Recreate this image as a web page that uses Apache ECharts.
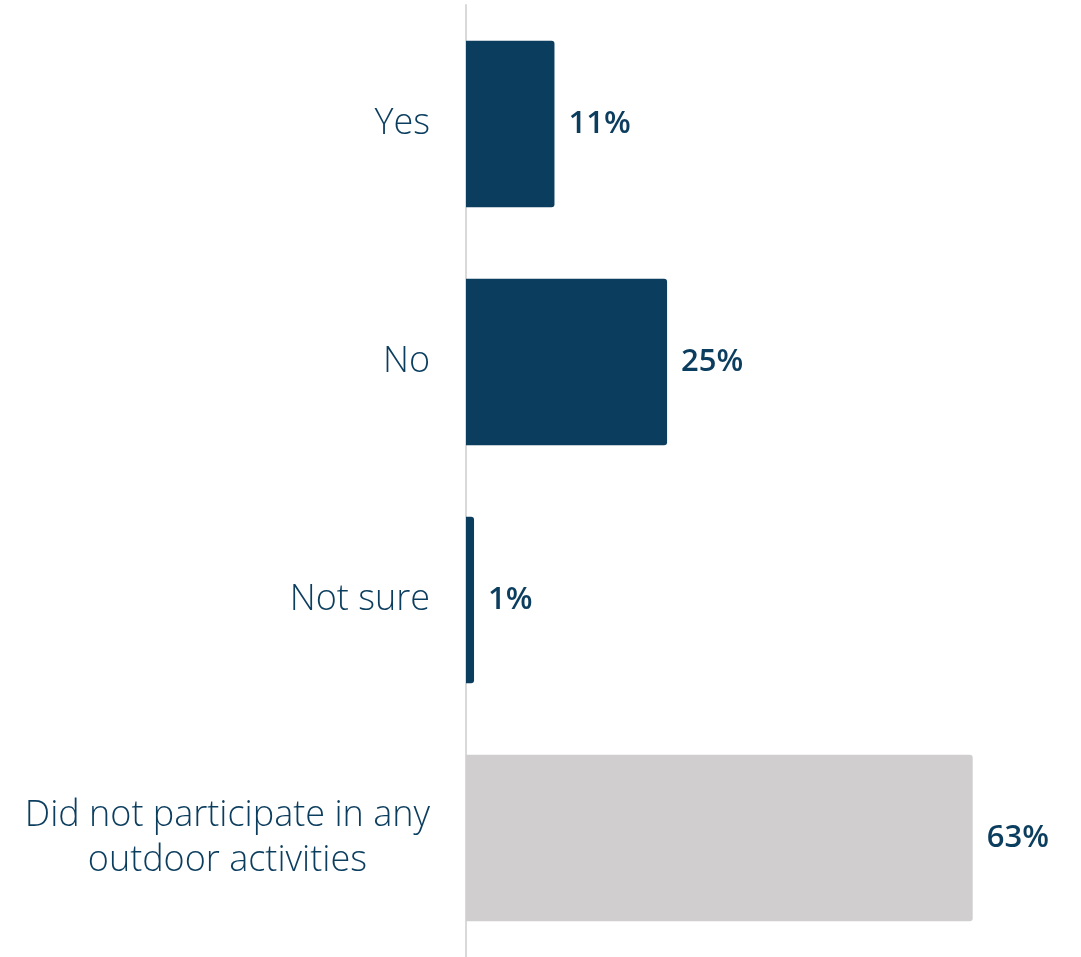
<!DOCTYPE html>
<html>
<head>
<meta charset="utf-8">
<script src="https://cdn.jsdelivr.net/npm/echarts@6/dist/echarts.min.js"></script>
<style>
html,body{margin:0;padding:0;background:#fff;}
#c{width:1081px;height:957px;}
</style>
</head>
<body>
<div id="c"></div>
<script>
const categories = ['Yes', 'No', 'Not sure', 'Did not participate in any\noutdoor activities'];
const values = [11, 25, 1, 63];
const barColors = ['#0b3d5e', '#0b3d5e', '#0b3d5e', '#d0cecf'];

const chart = echarts.init(document.getElementById('c'));
chart.setOption({
  animation: false,
  grid: { left: 466, right: 52, top: 5, bottom: 0, containLabel: false },
  xAxis: {
    type: 'value', min: 0, max: 70, show: false
  },
  yAxis: {
    type: 'category', inverse: true, data: categories,
    axisLine: { show: true, lineStyle: { color: '#d9d9d9', width: 2 } },
    axisTick: { show: false },
    axisLabel: {
      margin: 36, align: 'right',
      formatter: function (v) {
        return v.split('\n').map(function (l) { return '{c|' + l + '}'; }).join('\n');
      },
      rich: {
        c: {
          color: '#0b3d5e', fontFamily: 'Open Sans', fontSize: 36, fontWeight: 350,
          lineHeight: 45, align: 'center'
        }
      }
    }
  },
  series: [{
    type: 'bar',
    data: values.map((v, i) => ({ value: v, itemStyle: { color: barColors[i] } })),
    barCategoryGap: '30%',
    itemStyle: { borderRadius: [0, 3, 3, 0] },
    label: {
      show: true, position: 'right', distance: 14,
      formatter: '{c}%', color: '#0b3d5e', fontFamily: 'Open Sans',
      fontSize: 31, fontWeight: 600
    }
  }]
});
</script>
</body>
</html>
